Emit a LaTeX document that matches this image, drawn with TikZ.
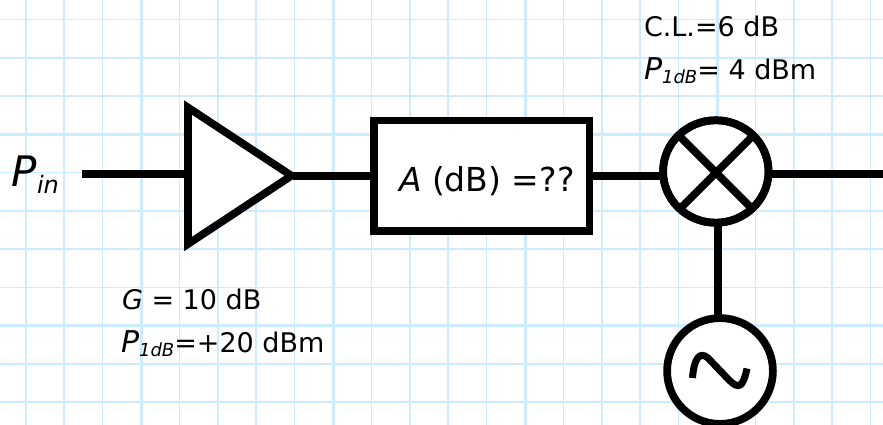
\documentclass[tikz,border=0pt]{standalone}
\usepackage{fontspec}
\usetikzlibrary{shapes.geometric}
\setmainfont{DejaVu Sans}
\definecolor{gridminor}{HTML}{CFEBFF}
\definecolor{gridmajor}{HTML}{CCECFF}
\newcommand{\subdb}{{\fontsize{18}{20}\selectfont\itshape\raisebox{-4pt}{1dB}}}
\tikzset{
  x=1pt,y=-1pt,
  minorgrid/.style={draw=gridminor,line width=1.5pt},
  majorgrid/.style={draw=gridmajor,line width=3pt},
  wire/.style={draw=black,line width=7.7pt},
  part/.style={draw=black,fill=white,line width=7.7pt,inner sep=0pt,outer sep=0pt},
  lbl/.style={inner sep=0pt,outer sep=0pt,anchor=base west,font=\fontsize{27}{32}\selectfont},
}
\begin{document}
\begin{tikzpicture}
\useasboundingbox (0,0) rectangle (883,425);
\fill[white] (0,0) rectangle (883,425);
% grid
\foreach \k in {0,...,22} {\pgfmathsetmacro{\gx}{25.8+38.4*\k}\draw[minorgrid] (\gx,0) -- (\gx,425);}
\foreach \k in {0,...,10} {\pgfmathsetmacro{\gy}{19.5+38.27*\k}\draw[minorgrid] (0,\gy) -- (883,\gy);}
\foreach \gx in {141,333,525,717} \draw[majorgrid] (\gx,0) -- (\gx,425);
\foreach \gy in {134.3,325.7} \draw[majorgrid] (0,\gy) -- (883,\gy);
% named points
\coordinate (start) at (82,174);
\coordinate (ampT) at (188,107.5);
\coordinate (ampB) at (188,244);
\coordinate (ampTip) at (291.5,175.7);
\coordinate (ampL) at (188,174);
\coordinate (ampR) at (293,176);
\coordinate (outEnd) at (883,174);
\coordinate (tapTop) at (718.3,225);
\coordinate (tapBot) at (718.3,320);
% parts
\node[part,minimum width=215.5pt,minimum height=110.5pt] (att) at (481.7,175.8) {};
\node[part,ellipse,minimum width=105.5pt,minimum height=102.5pt] (mix) at (715.8,171.5) {};
\node[part,circle,minimum size=105.8pt] (osc) at (720,371) {};
% wires
\draw[wire] (start) -- (ampL);
\draw[wire] (ampR) -- (att.west |- ampR);
\draw[wire] (att.east |- ampR) -- (mix.west |- ampR);
\draw[wire] (mix.east |- outEnd) -- (outEnd);
\draw[wire] (tapTop) -- (tapBot);
% amplifier
\draw[part,miter limit=10] (ampT) -- (ampTip) -- (ampB) -- cycle;
% mixer cross
\begin{scope}
\clip (mix.center) ellipse [x radius=52.7pt,y radius=51.2pt];
\draw[wire] (716,172.7) ++(-45,-45) -- ++(90,90);
\draw[wire] (716,172.7) ++(45,-45) -- ++(-90,90);
\end{scope}
\draw[part,fill=none] (mix.center) ellipse [x radius=52.7pt,y radius=51.2pt];
% oscillator sine
\draw[line width=7pt,black] (692.5,378) .. controls (694,358) and (700,351) .. (708,358) -- (729,380) .. controls (739,390) and (743,387) .. (747,368.5);
% labels
\node[lbl] (pin) at (11,186) {\fontsize{42}{46}\selectfont\itshape P};
\node[lbl] (pinsub) at (37,193) {\fontsize{24}{28}\selectfont\itshape in};
\node[lbl] (atttext) at (399,191) {\fontsize{33}{38}\selectfont{\itshape A} (dB) =??};
\node[lbl] (gain) at (122,309) {{\itshape G} = 10 dB};
\node[lbl] (p1) at (121,352) {{\fontsize{30}{34}\selectfont\itshape P}\subdb=+20 dBm};
\node[lbl] (cl) at (644,37) {C.L.=6 dB};
\node[lbl] (p2) at (644,80) {{\fontsize{30}{34}\selectfont\itshape P}\subdb= 4 dBm};
\end{tikzpicture}
\end{document}
